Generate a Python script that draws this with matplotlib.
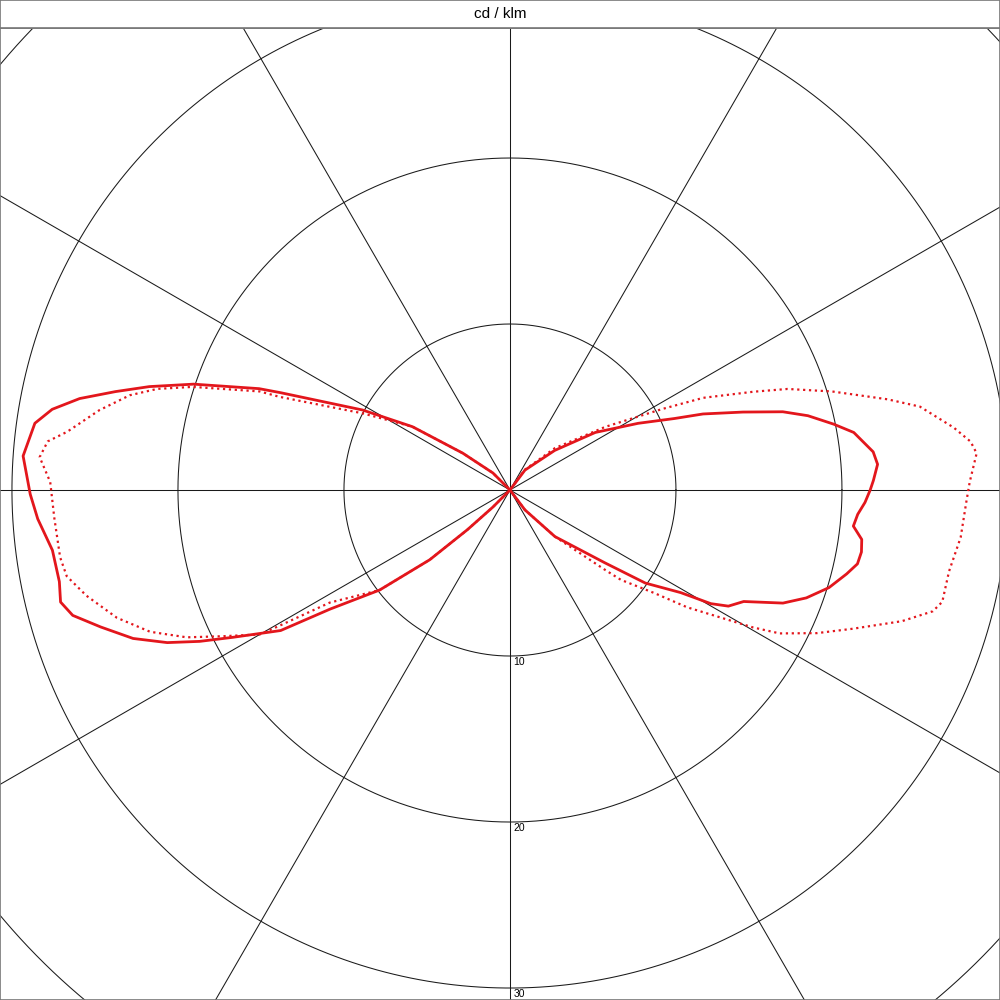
import numpy as np
import matplotlib.pyplot as plt

plt.rcParams['font.family'] = ['Liberation Sans', 'DejaVu Sans']

# gamma angles (deg, 0 = down) and intensities (cd/klm), right half of the diagram
g_right_solid = [0, 37, 44, 52.5, 55.5, 59, 60.5, 62, 64.5, 67.5, 70, 73, 76, 78, 80, 82, 84, 86,
                 88, 90, 91.5, 94, 96, 99.5, 101.5, 104, 106, 108.5, 111.5, 113.5, 117.5, 124,
                 131.5, 143, 180]
i_right_solid = [0, 1.5, 3.9, 7.2, 9.9, 12.0, 13.9, 14.9, 15.6, 17.8, 19.0, 20.1, 20.9, 21.4, 21.5,
                 21.4, 20.8, 21.0, 21.4, 21.7, 21.9, 22.2, 22.0, 21.0, 19.9, 18.5, 17.1, 14.8, 12.5,
                 10.8, 8.7, 6.2, 3.6, 1.5, 0]

g_right_dot = [0, 37, 44, 50, 51, 54.5, 56.5, 60.5, 62, 65, 68, 71.5, 74, 75.5, 79.5, 84, 88.5, 91,
               94.5, 96, 98, 101.5, 103.5, 107, 110, 112, 115.5, 118, 123.5, 133, 144, 180]
i_right_dot = [0, 1.5, 3.9, 7.5, 8.6, 10.7, 12.8, 16.8, 18.4, 20.4, 22.3, 24.9, 26.5, 26.9, 26.9,
               27.3, 27.5, 27.7, 28.2, 27.9, 27.0, 25.2, 23.4, 20.3, 17.8, 15.8, 12.9, 10.4, 6.9,
               3.7, 1.5, 0]

# left half of the diagram
g_left_solid = [0, 45, 47, 49, 52.5, 56.5, 58.5, 62, 64, 66, 68.5, 71.5, 74, 76, 78.5, 82.5, 86.5,
                89.5, 94, 98, 100, 102, 104, 106, 108.5, 112, 113, 118.5, 123, 128, 135, 180]
i_left_solid = [0, 1.45, 3.5, 6.4, 9.9, 13.0, 16.2, 18.9, 20.8, 22.6, 24.4, 26.0, 27.4, 27.9, 27.7,
                27.8, 28.5, 28.9, 29.4, 28.9, 28.0, 26.5, 24.5, 22.6, 20.1, 16.3, 15.0, 10.1, 7.0,
                3.6, 1.45, 0]

g_left_dot = [0, 45, 47, 49, 52.5, 58, 59.5, 60, 63, 65.5, 68.5, 72, 76, 79, 81.5, 86.5, 91, 94, 96,
              97.5, 101, 104, 106, 108, 111.5, 112, 117.5, 123, 128, 135, 180]
i_left_dot = [0, 1.45, 3.5, 6.4, 9.9, 12.8, 16.1, 17.4, 19.4, 21.4, 23.3, 24.9, 26.3, 27.2, 27.4,
              27.5, 27.7, 28.4, 28.0, 26.9, 25.2, 23.6, 22.1, 20.1, 16.2, 15.0, 10.0, 7.0, 3.6,
              1.45, 0]

rings = [10, 20, 30, 40]
ring_labels = ['10', '20', '30']
red = '#e3161c'


def to_xy(g_right, i_right, g_left, i_left):
    gr = np.radians(g_right)
    gl = np.radians(g_left)[::-1]
    ir = np.array(i_right)
    il = np.array(i_left)[::-1]
    x = np.concatenate([ir * np.sin(gr), -il * np.sin(gl)])
    y = np.concatenate([-ir * np.cos(gr), -il * np.cos(gl)])
    return x, y


fig = plt.figure(figsize=(10, 10), dpi=100)
ax = fig.add_axes([0, 0, 1, 0.972])
head = fig.add_axes([0, 0.972, 1, 0.028])

ax.set_xlim(-30.72, 29.52)
ax.set_ylim(-30.72, 27.83)
ax.set_aspect('equal')
ax.set_xticks([])
ax.set_yticks([])

t = np.linspace(0, 2 * np.pi, 721)
for r in rings:
    ax.plot(r * np.cos(t), r * np.sin(t), color='#1a1a1a', lw=0.75, zorder=1)
for a in range(0, 360, 30):
    a = np.radians(a)
    ax.plot([0, 50 * np.sin(a)], [0, 50 * np.cos(a)], color='#1a1a1a', lw=0.75, zorder=1)

for r, lab in zip(rings, ring_labels):
    ax.text(0.2, -r - 0.05, lab, fontsize=7.5, ha='left', va='top', zorder=3)

x, y = to_xy(g_right_solid, i_right_solid, g_left_solid, i_left_solid)
ax.plot(x, y, color=red, lw=2.0, solid_joinstyle='round', zorder=4)
x, y = to_xy(g_right_dot, i_right_dot, g_left_dot, i_left_dot)
ax.plot(x, y, color=red, lw=1.6, linestyle=':', zorder=4)

head.set_xticks([])
head.set_yticks([])
head.text(0.5, 0.5, 'cd / klm', fontsize=11, ha='center', va='center', transform=head.transAxes)

for a in (ax, head):
    for s in a.spines.values():
        s.set_color('#777777')
        s.set_linewidth(1.2)

fig.savefig('out.png', dpi=100)
